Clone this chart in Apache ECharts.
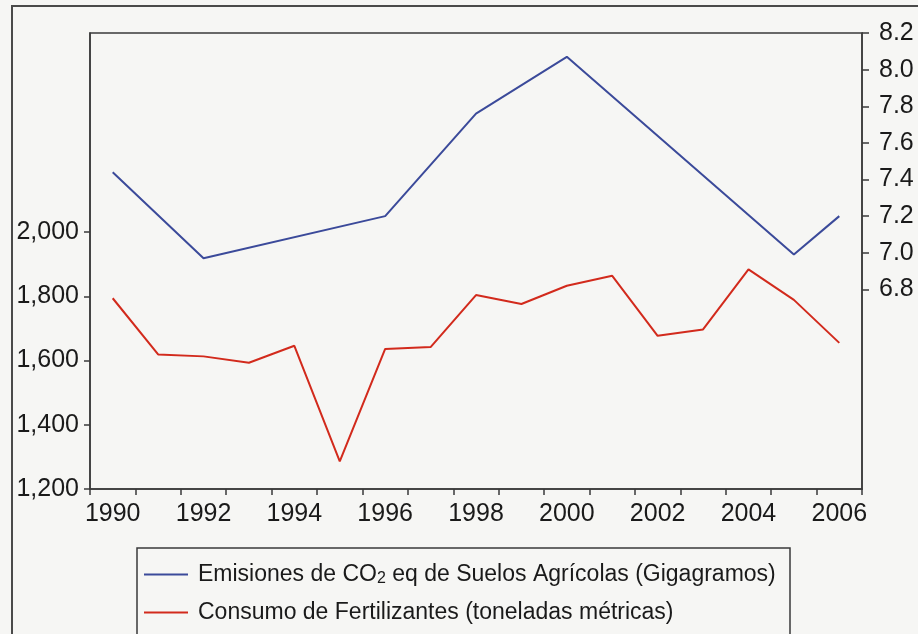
<!DOCTYPE html>
<html>
<head>
<meta charset="utf-8">
<script src="https://cdn.jsdelivr.net/npm/echarts@6/dist/echarts.min.js"></script>
<style>
html,body{margin:0;padding:0;background:#f6f6f4;}
#chart{width:918px;height:634px;}
</style>
</head>
<body>
<div id="chart"></div>
<script>
// ---- data ----
var years = ['1990','1991','1992','1993','1994','1995','1996','1997','1998','1999','2000','2001','2002','2003','2004','2005','2006'];
// Emisiones de CO2 eq de Suelos Agrícolas (Gigagramos) - right axis; years without a vertex are missing
var emisiones = [7.44, null, 6.97, null, null, null, 7.20, null, 7.76, null, 8.07, null, null, null, null, 6.99, 7.20];
// Consumo de Fertilizantes (toneladas métricas) - left axis
var fertilizantes = [1794, 1619, 1613, 1593, 1646, 1286, 1636, 1642, 1804, 1776, 1833, 1864, 1677, 1697, 1884, 1789, 1655];
var leftTicks = [1200, 1400, 1600, 1800, 2000];
var rightTicks = [6.8, 7.0, 7.2, 7.4, 7.6, 7.8, 8.0, 8.2];
var seriesNames = ['Emisiones de CO2 eq de Suelos Agrícolas (Gigagramos)', 'Consumo de Fertilizantes (toneladas métricas)'];

var FONT = '"Liberation Sans", Arial, Helvetica, sans-serif';
var AX = '#3a3a3a';
var chart = echarts.init(document.getElementById('chart'), null, {renderer: 'canvas'});
chart.setOption({
  backgroundColor: '#f6f6f4',
  animation: false,
  textStyle: {fontFamily: FONT},
  graphic: [
    {type: 'rect', z: -1, shape: {x: 12, y: 6, width: 1000, height: 800},
     style: {fill: 'none', stroke: '#4a4a4a', lineWidth: 2}},
    {type: 'rect', z: -1, shape: {x: 137, y: 548, width: 653, height: 120},
     style: {fill: 'none', stroke: '#3a3a3a', lineWidth: 1.5}}
  ],
  grid: {left: 90, right: 56, top: 33, bottom: 145, show: true, borderColor: AX, borderWidth: 1.5, backgroundColor: 'transparent'},
  legend: {
    orient: 'vertical', left: 139, top: 558,
    itemWidth: 44, itemHeight: 2, itemGap: 14, icon: 'rect',
    data: seriesNames,
    formatter: function (name) {
      if (name.indexOf('CO2') >= 0) return 'Emisiones de CO{sub|2} eq de Suelos Agrícolas (Gigagramos)';
      return name;
    },
    textStyle: {
      fontFamily: FONT, fontSize: 23, color: '#1a1a1a', padding: [0, 0, 0, 5],
      rich: {sub: {fontFamily: FONT, fontSize: 16, color: '#1a1a1a', padding: [9, 0, 0, 0]}}
    }
  },
  xAxis: {
    type: 'category', data: years, boundaryGap: true,
    axisLine: {lineStyle: {color: AX, width: 1.5}},
    axisTick: {show: true, interval: 0, alignWithLabel: false, length: 6, lineStyle: {color: AX, width: 1.5}},
    axisLabel: {interval: 1, margin: 13, fontFamily: FONT, fontSize: 25, color: '#1a1a1a'},
    splitLine: {show: false}
  },
  yAxis: [
    {
      type: 'value', position: 'left', min: 1200, max: 2620,
      axisLine: {show: true, lineStyle: {color: AX, width: 1.5}},
      axisTick: {show: true, length: 6, customValues: leftTicks, lineStyle: {color: AX, width: 1.5}},
      axisLabel: {customValues: leftTicks, margin: 11, fontFamily: FONT, fontSize: 25, color: '#1a1a1a',
        formatter: function (v) { return Number(v).toLocaleString('en-US'); }},
      splitLine: {show: false}
    },
    {
      type: 'value', position: 'right', min: 5.71, max: 8.2,
      axisLine: {show: true, lineStyle: {color: AX, width: 1.5}},
      axisTick: {show: true, length: 7, customValues: rightTicks, lineStyle: {color: AX, width: 1.5}},
      axisLabel: {customValues: rightTicks, margin: 17, fontFamily: FONT, fontSize: 25, color: '#1a1a1a',
        formatter: function (v) { return Number(v).toFixed(1); }},
      splitLine: {show: false}
    }
  ],
  series: [
    {name: seriesNames[0], type: 'line', yAxisIndex: 1, data: emisiones, connectNulls: true,
     symbol: 'none', lineStyle: {color: '#3b4a9a', width: 2}, itemStyle: {color: '#3b4a9a'}},
    {name: seriesNames[1], type: 'line', yAxisIndex: 0, data: fertilizantes,
     symbol: 'none', lineStyle: {color: '#d22a1c', width: 2}, itemStyle: {color: '#d22a1c'}}
  ]
});
</script>
</body>
</html>
